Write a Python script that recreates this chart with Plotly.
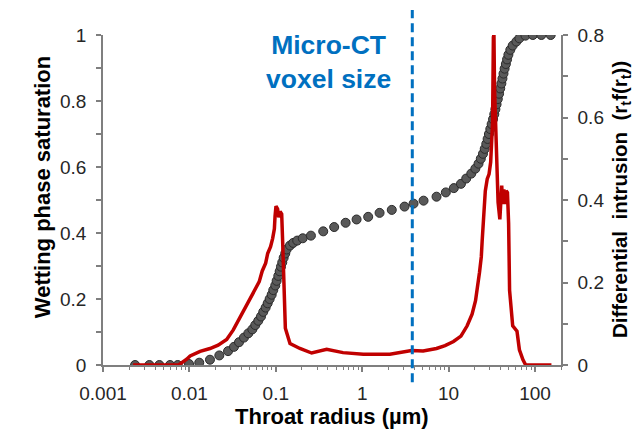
import math
import plotly.graph_objects as go

# Capillary pressure curve: wetting-phase saturation vs throat radius (µm)
radius_sat = [0.00235, 0.00344, 0.00449, 0.00597, 0.00733, 0.0099, 0.0130, 0.0173,
              0.0222, 0.0280, 0.0328, 0.0375, 0.0428, 0.0481, 0.0535, 0.0579,
              0.0627, 0.0674, 0.0716, 0.0763, 0.0805, 0.0849, 0.0896, 0.0935,
              0.0986, 0.1023, 0.1069, 0.1109, 0.1148, 0.1188, 0.1233, 0.1287,
              0.1335, 0.146, 0.159, 0.177, 0.205, 0.255, 0.354, 0.474, 0.643,
              0.861, 1.173, 1.589, 2.20, 3.09, 3.93, 5.13, 7.25, 9.29, 11.5,
              13.9, 16.0, 18.3, 20.4, 22.2, 23.6, 25.0, 26.2, 27.3, 28.3, 29.3,
              30.4, 31.5, 32.7, 33.8, 34.8, 35.9, 37.1, 38.4, 39.6, 40.8, 42.0,
              43.2, 44.5, 46.0, 47.5, 49.2, 51.8, 55.2, 60.9, 66.0, 77.6, 94.4,
              118.5, 152.0]
saturation = [0.0, 0.0, 0.0, 0.0, 0.0, 0.003, 0.007, 0.016,
              0.029, 0.042, 0.055, 0.069, 0.083, 0.096, 0.108, 0.121,
              0.134, 0.147, 0.161, 0.174, 0.187, 0.200, 0.213, 0.227,
              0.241, 0.255, 0.270, 0.284, 0.298, 0.311, 0.325, 0.338,
              0.350, 0.362, 0.370, 0.377, 0.384, 0.392, 0.405, 0.418, 0.431,
              0.441, 0.449, 0.461, 0.470, 0.480, 0.489, 0.498, 0.510, 0.523, 0.536,
              0.549, 0.565, 0.580, 0.595, 0.610, 0.625, 0.640, 0.655, 0.670, 0.685, 0.700,
              0.715, 0.730, 0.745, 0.760, 0.775, 0.790, 0.806, 0.822, 0.838, 0.853, 0.868,
              0.883, 0.898, 0.912, 0.926, 0.940, 0.955, 0.968, 0.980, 0.990, 0.998, 1.0,
              1.0, 1.0]

# Pore-throat size distribution: differential intrusion r_t f(r_t)
radius_di = [0.00223, 0.0075, 0.0093, 0.0102, 0.0133, 0.0173, 0.0215, 0.0270,
             0.0322, 0.0368, 0.0420, 0.0480, 0.0550, 0.0600, 0.0643, 0.0697,
             0.0763, 0.0805, 0.0870, 0.0920, 0.0963, 0.0980, 0.1005, 0.1050,
             0.1080, 0.1120, 0.1170, 0.1200, 0.1240, 0.1290, 0.1460, 0.1900,
             0.2600, 0.3540, 0.3880, 0.6000, 1.03, 2.09, 2.98, 3.73, 5.07, 7.25,
             9.1, 11.4, 13.9, 16.4, 18.7, 20.5, 22.8, 23.9, 24.5, 26.1, 26.6,
             28.0, 29.4, 30.7, 31.5, 32.3, 33.0, 33.5, 34.0, 35.1, 36.1, 37.4,
             39.2, 40.5, 41.2, 42.3, 43.6, 44.9, 46.4, 48.0, 49.5, 50.8, 52.7,
             55.2, 61.9, 66.0, 72.4, 78.0, 155.0]
diff_intrusion = [0.0, 0.0, 0.014, 0.022, 0.033, 0.040, 0.048, 0.062,
                  0.085, 0.108, 0.130, 0.152, 0.178, 0.189, 0.202, 0.228,
                  0.247, 0.270, 0.287, 0.307, 0.330, 0.360, 0.385, 0.378,
                  0.358, 0.372, 0.366, 0.300, 0.190, 0.089, 0.052, 0.040,
                  0.029, 0.036, 0.038, 0.030, 0.026, 0.026, 0.032, 0.035, 0.034, 0.040,
                  0.047, 0.057, 0.070, 0.095, 0.123, 0.156, 0.225, 0.262, 0.303, 0.377, 0.422,
                  0.451, 0.463, 0.492, 0.529, 0.590, 0.795, 0.800, 0.672, 0.558, 0.508, 0.394,
                  0.353, 0.394, 0.435, 0.390, 0.426, 0.390, 0.422, 0.418, 0.344, 0.181, 0.140,
                  0.095, 0.082, 0.037, 0.013, 0.0, 0.0]

x_tickvals = [0.001, 0.01, 0.1, 1, 10, 100]
x_ticktext = ["0.001", "0.01", "0.1", "1", "10", "100"]
voxel_size = 3.8  # µm

# minor log ticks at 2..9 within each decade
x_minor = [m * 10 ** e for e in range(-3, 3) for m in range(2, 10) if m * 10 ** e <= 200]

FONT = "Liberation Sans, Arial, sans-serif"
AXIS_GRAY = "#7f7f7f"
TEXT = "#262626"
BLUE = "#0070C0"

fig = go.Figure()
fig.add_trace(go.Scatter(
    x=radius_sat, y=saturation, mode="markers", yaxis="y",
    marker=dict(size=9, color="#595959", line=dict(color="#2b2b2b", width=1)),
    showlegend=False,
))
fig.add_trace(go.Scatter(
    x=radius_di, y=diff_intrusion, mode="lines", yaxis="y2",
    line=dict(color="#C00000", width=3.5),
    showlegend=False,
))

common_axis = dict(
    showgrid=False, zeroline=False, showline=True,
    linecolor=AXIS_GRAY, linewidth=1.5,
    ticks="outside", ticklen=5, tickwidth=1.5, tickcolor=AXIS_GRAY,
    tickfont=dict(family=FONT, size=19, color=TEXT),
)
minor_y = dict(dtick=0.1, ticks="outside", ticklen=5, tickwidth=1.5,
               tickcolor=AXIS_GRAY, showgrid=False)

fig.update_layout(
    width=634, height=429,
    margin=dict(l=103, r=73, t=35, b=64),
    paper_bgcolor="white", plot_bgcolor="white",
    font=dict(family=FONT, color=TEXT),
    xaxis=dict(
        type="log", range=[-3, math.log10(200)],
        tickmode="array", tickvals=x_tickvals, ticktext=x_ticktext,
        minor=dict(tickmode="array", tickvals=x_minor, ticks="outside",
                   ticklen=3, tickwidth=1.2, tickcolor=AXIS_GRAY, showgrid=False),
        ticklabelstandoff=5,
        **common_axis,
    ),
    yaxis=dict(
        range=[0, 1], dtick=0.2, tick0=0, minor=minor_y,
        ticklabelstandoff=6,
        **common_axis,
    ),
    yaxis2=dict(
        overlaying="y", side="right",
        range=[0, 0.8], dtick=0.2, tick0=0, minor=minor_y,
        ticklabelstandoff=6,
        **common_axis,
    ),
    shapes=[dict(
        type="line", xref="x", yref="paper",
        x0=voxel_size, x1=voxel_size, y0=-0.052, y1=1.076,
        line=dict(color=BLUE, width=3, dash="9px,5px"),
    )],
    annotations=[
        dict(xref="paper", yref="paper", x=0.493, y=0.918,
             text="<b>Micro-CT<br>voxel size</b>", showarrow=False,
             font=dict(family=FONT, size=26.5, color=BLUE),
             align="center", xanchor="center", yanchor="middle"),
        # axis titles
        dict(xref="paper", yref="paper", x=0.499, y=-0.155,
             text="<b>Throat radius (µm)</b>", showarrow=False,
             font=dict(family=FONT, size=22, color="#000000"),
             xanchor="center", yanchor="middle"),
        dict(xref="paper", yref="paper", x=-0.133, y=0.539, textangle=-90,
             text="<b>Wetting phase saturation</b>", showarrow=False,
             font=dict(family=FONT, size=22, color="#000000"),
             xanchor="center", yanchor="middle"),
        dict(xref="paper", yref="paper", x=1.131, y=0.503, textangle=-90,
             text="<b>Differential  intrusion  (r<sub>t</sub>f(r<sub>t</sub>))</b>",
             showarrow=False,
             font=dict(family=FONT, size=20.5, color="#000000"),
             xanchor="center", yanchor="middle"),
    ],
)

fig.write_html("out.html")
